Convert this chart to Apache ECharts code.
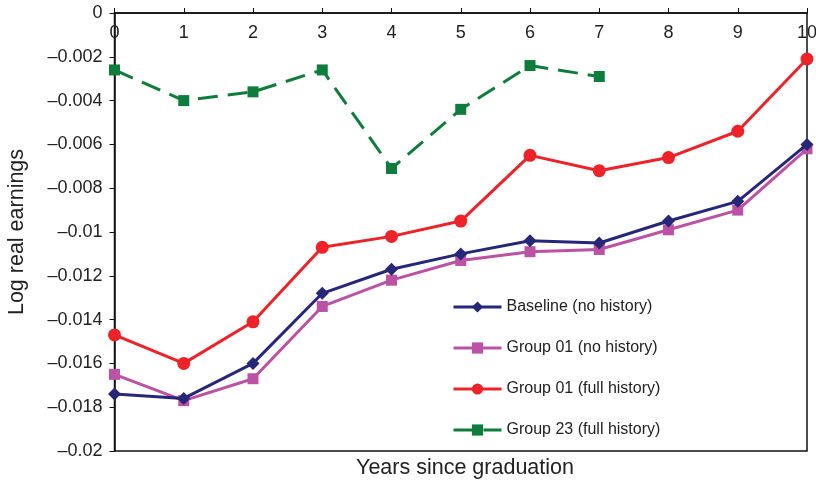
<!DOCTYPE html>
<html>
<head>
<meta charset="utf-8">
<script src="https://cdn.jsdelivr.net/npm/echarts@6/dist/echarts.min.js"></script>
<style>
  html, body { margin: 0; padding: 0; background: #fff; }
  #chart { width: 816px; height: 484px; }
</style>
</head>
<body>
<div id="chart"></div>
<script>
// Years since graduation (x values)
const years = [0, 1, 2, 3, 4, 5, 6, 7, 8, 9, 10];

// Log real earnings by group
const baselineNoHistory = [-0.0174, -0.0176, -0.0160, -0.0128, -0.0117, -0.0110, -0.0104, -0.0105, -0.0095, -0.0086, -0.0060];
const group01NoHistory  = [-0.0165, -0.0177, -0.0167, -0.0134, -0.0122, -0.0113, -0.0109, -0.0108, -0.0099, -0.0090, -0.0062];
const group01FullHistory = [-0.0147, -0.0160, -0.0141, -0.0107, -0.0102, -0.0095, -0.0065, -0.0072, -0.0066, -0.0054, -0.0021];
const group23FullHistory = [-0.0026, -0.0040, -0.0036, -0.0026, -0.0071, -0.0044, -0.0024, -0.0029];

const seriesNames = [
  'Baseline (no history)',
  'Group 01 (no history)',
  'Group 01 (full history)',
  'Group 23 (full history)'
];

const pairs = (ys) => ys.map((v, i) => [years[i], v]);

const FONT = '"Liberation Sans", Arial, Helvetica, sans-serif';

const chart = echarts.init(document.getElementById('chart'), null, { renderer: 'canvas' });

chart.setOption({
  animation: false,
  backgroundColor: '#fff',
  textStyle: { fontFamily: FONT },
  title: {
    text: 'Years since graduation',
    left: 465, top: 457, textAlign: 'center',
    textStyle: { fontSize: 21.5, fontWeight: 'normal', color: '#222', fontFamily: FONT },
    padding: 0
  },
  grid: {
    left: 114.5, right: 9, top: 13, bottom: 33,
    outerBoundsMode: 'none',
    containLabel: false,
    show: true, borderColor: '#111', borderWidth: 1.5,
    backgroundColor: 'transparent'
  },
  legend: {
    orient: 'vertical',
    left: 447, top: 294,
    itemWidth: 48, itemHeight: 14, itemGap: 25,
    lineStyle: { width: 3 },
    textStyle: { fontSize: 16, color: '#222', fontFamily: FONT },
    data: seriesNames
  },
  xAxis: {
    type: 'value',
    position: 'top',
    min: 0, max: 10, interval: 1,
    axisLine: { show: true, lineStyle: { color: '#111', width: 1.5 } },
    axisTick: { show: true, inside: false, length: 5, lineStyle: { color: '#111', width: 1 } },
    axisLabel: { inside: true, margin: 11, fontSize: 18, color: '#222' },
    splitLine: { show: false }
  },
  yAxis: {
    type: 'value',
    min: -0.02, max: 0, interval: 0.002,
    name: 'Log real earnings',
    nameLocation: 'middle',
    nameGap: 86,
    nameRotate: 90,
    nameTextStyle: { fontSize: 21.5, color: '#222' },
    axisLine: { show: true, lineStyle: { color: '#111', width: 1.5 } },
    axisTick: { show: true, inside: false, length: 5, lineStyle: { color: '#111', width: 1 } },
    axisLabel: {
      margin: 12, fontSize: 18, color: '#222',
      formatter: (v) => {
        if (Math.abs(v) < 1e-9) return '0';
        return '\u2013' + parseFloat(Math.abs(v).toFixed(3)).toString();
      }
    },
    splitLine: { show: false }
  },
  series: [
    {
      name: seriesNames[0], type: 'line', data: pairs(baselineNoHistory),
      symbol: 'diamond', symbolSize: 13,
      lineStyle: { color: '#27277a', width: 3 },
      itemStyle: { color: '#27277a' }, z: 4
    },
    {
      name: seriesNames[1], type: 'line', data: pairs(group01NoHistory),
      symbol: 'rect', symbolSize: 11,
      lineStyle: { color: '#bb52a3', width: 3 },
      itemStyle: { color: '#bb52a3' }, z: 3
    },
    {
      name: seriesNames[2], type: 'line', data: pairs(group01FullHistory),
      symbol: 'circle', symbolSize: 13,
      lineStyle: { color: '#ee2229', width: 3 },
      itemStyle: { color: '#ee2229' }, z: 5
    },
    {
      name: seriesNames[3], type: 'line', data: pairs(group23FullHistory),
      symbol: 'rect', symbolSize: 11,
      lineStyle: { color: '#0e7d3c', width: 3, type: [20, 10] },
      itemStyle: { color: '#0e7d3c' }, z: 6
    }
  ]
});
</script>
</body>
</html>
